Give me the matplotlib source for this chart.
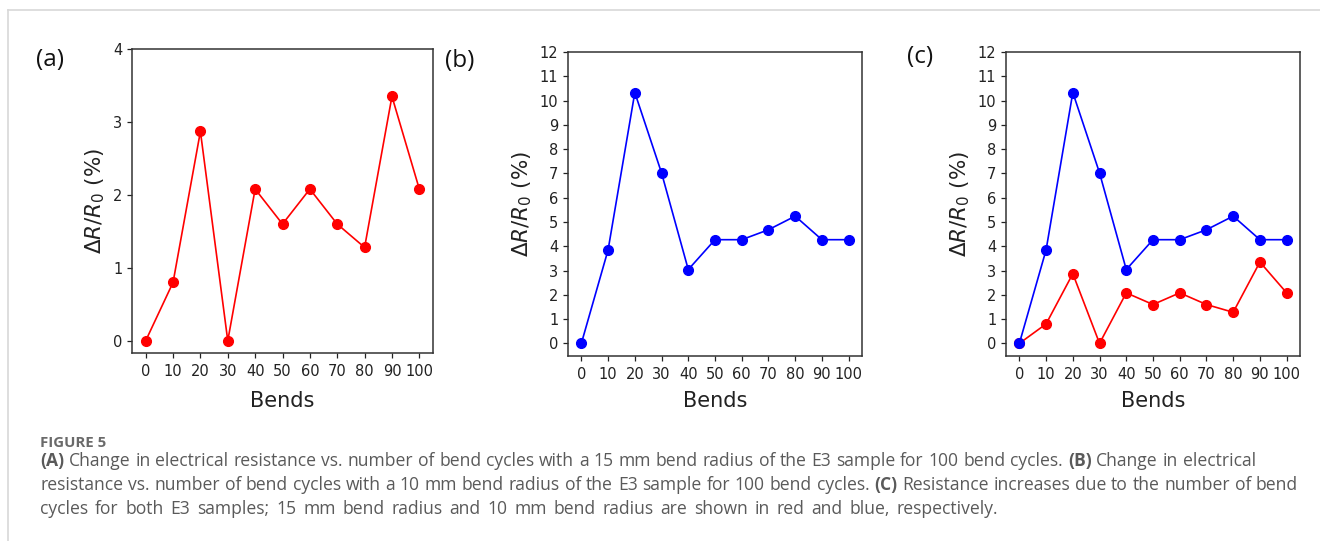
import matplotlib
matplotlib.use("Agg")
import matplotlib.pyplot as plt
from matplotlib.lines import Line2D

# ---- data ----
bends = [0, 10, 20, 30, 40, 50, 60, 70, 80, 90, 100]
r15 = [0.0, 0.80, 2.87, 0.0, 2.08, 1.60, 2.08, 1.60, 1.28, 3.35, 2.08]
r10 = [0.0, 3.85, 10.33, 7.02, 3.04, 4.27, 4.27, 4.68, 5.24, 4.27, 4.27]
yticks_a = [0, 1, 2, 3, 4]
yticks_bc = list(range(0, 13))
panel_labels = ["(a)", "(b)", "(c)"]
ylabel = r"$\Delta R/R_0$ (%)"
xlabel = "Bends"

caption_title = "FIGURE 5"
caption_lines = [
    [("(A)", "bold"), ("Change in electrical resistance vs. number of bend cycles with a 15 mm bend radius of the E3 sample for 100 bend cycles.", "normal"),
     ("(B)", "bold"), ("Change in electrical", "normal")],
    [("resistance vs. number of bend cycles with a 10 mm bend radius of the E3 sample for 100 bend cycles.", "normal"),
     ("(C)", "bold"), ("Resistance increases due to the number of bend", "normal")],
    [("cycles for both E3 samples; 15 mm bend radius and 10 mm bend radius are shown in red and blue, respectively.", "normal")],
]

W, H = 1320, 541
fig = plt.figure(figsize=(W / 100, H / 100), dpi=100)


def ax_at(left, top, right, bottom):
    return fig.add_axes([left / W, 1 - bottom / H, (right - left) / W, (bottom - top) / H])


ax_a = ax_at(132, 49, 433, 353)
ax_b = ax_at(568, 52, 862, 356)
ax_c = ax_at(1006, 52, 1300, 356)

ms = 7
lw = 1.2
ax_a.plot(bends, r15, color="red", marker="o", markersize=ms, linewidth=lw)
ax_b.plot(bends, r10, color="blue", marker="o", markersize=ms, linewidth=lw)
ax_c.plot(bends, r15, color="red", marker="o", markersize=ms, linewidth=lw)
ax_c.plot(bends, r10, color="blue", marker="o", markersize=ms, linewidth=lw)

ax_a.set_ylim(-0.1675, 4)
ax_a.set_yticks(yticks_a)
for ax in (ax_b, ax_c):
    ax.set_ylim(-0.52, 12)
    ax.set_yticks(yticks_bc)

for ax, lp in ((ax_a, 8.3), (ax_b, 6.2), (ax_c, 6.2)):
    ax.set_xlim(-5, 105)
    ax.set_xticks(bends)
    ax.tick_params(labelsize=10.5, length=3.5, width=0.9, colors="#222222")
    ax.tick_params(axis="x", pad=4.5)
    ax.set_xlabel(xlabel, fontsize=15, color="#222222", labelpad=lp)
    ax.set_ylabel(ylabel, fontsize=15.5, color="#222222")
    for s in ax.spines.values():
        s.set_color("#333333")
        s.set_linewidth(1.1)

# panel labels
for (px, py), lab in zip([(50, 60), (460, 61), (920, 57)], panel_labels):
    fig.text(px / W, 1 - py / H, lab, fontsize=17.5, family="Open Sans",
             ha="center", va="center", color="#111111")

# frame lines
fig.add_artist(Line2D([8 / W, 8 / W], [0, 1 - 10 / H], transform=fig.transFigure,
                      color="#d8d8d8", linewidth=1.2))
fig.add_artist(Line2D([8 / W, 1], [1 - 10 / H, 1 - 10 / H], transform=fig.transFigure,
                      color="#d8d8d8", linewidth=1.2))

# caption
cap_color = "#5a5a5a"
cap_font = "Open Sans"
x0 = 40
fig.canvas.draw()
renderer = fig.canvas.get_renderer()

t = fig.text(x0 / W, 1 - 447 / H, caption_title, fontsize=10, family=cap_font, weight="bold",
             color="#6a6a6a", va="baseline", ha="left")
w = t.get_window_extent(renderer=renderer).width
t.set_fontsize(10 * 66 / w)


def words_of(segs):
    out = []
    for txt, wt in segs:
        for wd in txt.split(" "):
            if wd:
                out.append((wd, wt))
    return out


def measure(word, wt, size):
    tt = fig.text(0, 0.5, word, fontsize=size, family=cap_font, weight=wt)
    wdt = tt.get_window_extent(renderer=renderer).width
    tt.remove()
    return wdt


# body font size: natural width of line 1 ~ 1216 px
base = 12
probe = fig.text(0, 0.5, " ".join(w for w, _ in words_of(caption_lines[0])),
                 fontsize=base, family=cap_font)
nat = probe.get_window_extent(renderer=renderer).width
probe.remove()
fs = base * 1200 / nat

line_ys = [466, 490, 514]
line_ends = [1256, 1298, 998]
for segs, ly, xend in zip(caption_lines, line_ys, line_ends):
    wl = words_of(segs)
    widths = [measure(wd, wt, fs) for wd, wt in wl]
    gap = (xend - x0 - sum(widths)) / (len(wl) - 1)
    x = x0
    for (wd, wt), wdt in zip(wl, widths):
        fig.text(x / W, 1 - ly / H, wd, fontsize=fs, family=cap_font, weight=wt,
                 color=cap_color, va="baseline", ha="left")
        x += wdt + gap

fig.savefig("out.png", dpi=100)
